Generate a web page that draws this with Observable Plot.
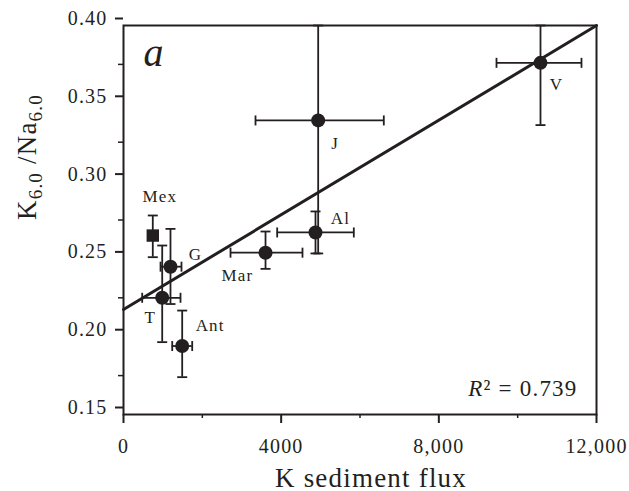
<!DOCTYPE html>
<html><head><meta charset="utf-8">
<script src="https://cdn.jsdelivr.net/npm/d3@7"></script>
<script src="https://cdn.jsdelivr.net/npm/@observablehq/plot@0.6"></script>
<style>
html,body{margin:0;padding:0;background:#fff;}
#chart svg{display:block;}
#chart svg text{letter-spacing:1.2px;}
</style></head><body><div id="chart"></div>
<script>
// ---- data ----
const sites      = ["V", "J", "Al", "Mar", "Mex", "G", "T", "Ant"];
const kFlux      = [10579, 4939, 4871, 3603, 743, 1192, 982, 1489];
const kFluxLo    = [9463, 3349, 3899, 2715, null, 939, 474, 1236];
const kFluxHi    = [11619, 6604, 5843, 4541, null, 1471, 1446, 1743];
const ratio      = [0.376, 0.339, 0.267, 0.254, 0.265, 0.245, 0.225, 0.194];
const ratioLo    = [0.336, 0.2535, 0.2535, 0.2436, 0.2511, 0.221, 0.1965, 0.174];
const ratioHi    = [0.40, 0.40, 0.2805, 0.2676, 0.2779, 0.2693, 0.2586, 0.2168];
const markerShape = ["circle", "circle", "circle", "circle", "square", "circle", "circle", "circle"];
const fitX = [0, 12000];
const fitY = [0.2175, 0.40];
const xTicks = [0, 4000, 8000, 12000];
const xTickLabels = ["0", "4000", "8,000", "12,000"];
const xMinorTicks = [2000, 6000, 10000];
const yTicks = [0.15, 0.20, 0.25, 0.30, 0.35, 0.40];
const yTickLabels = ["0.15", "0.20", "0.25", "0.30", "0.35", "0.40"];
const yMinorTicks = [0.175, 0.225, 0.275, 0.325, 0.375];
const xLabel = "K sediment flux";
const yLabel = "K6.0 /Na6.0";
const panelLabel = "a";
const r2Label = "R\u00b2 = 0.739";

// ---- layout (label offsets in px) ----
const labelOffset = {V:[16,22], J:[17,23], Al:[25,-14], Mar:[-28,23], Mex:[7,-39], G:[25,-12], T:[-12,20], Ant:[28,-20]};
const ink = "#231f20";

const data = sites.map((s, i) => ({site: s, x: kFlux[i], xLo: kFluxLo[i], xHi: kFluxHi[i],
  y: ratio[i], yLo: ratioLo[i], yHi: ratioHi[i], shape: markerShape[i]}));
const xErr = data.filter(d => d.xLo != null);
const fit = fitX.map((x, i) => ({x, y: fitY[i]}));

const capH = {draw(ctx) { ctx.moveTo(-5, 0); ctx.lineTo(5, 0); }};
const capV = {draw(ctx) { ctx.moveTo(0, -5); ctx.lineTo(0, 5); }};
const ew = 1.8;

const chart = Plot.plot({
  width: 629, height: 491,
  marginLeft: 123, marginRight: 33, marginTop: 25, marginBottom: 77,
  style: {fontFamily: "'Liberation Serif', 'Times New Roman', serif", background: "#fff", color: ink, overflow: "visible"},
  x: {domain: [0, 12000]},
  y: {domain: [0.15, 0.40]},
  marks: [
    Plot.frame({stroke: ink, strokeWidth: 2}),
    Plot.axisX({ticks: xTicks, tickFormat: d => xTickLabels[xTicks.indexOf(d)], tickSize: 9, tickPadding: 15, fontSize: 20, label: null, stroke: ink, strokeWidth: 2}),
    Plot.axisX({ticks: xMinorTicks, tickFormat: () => "", tickSize: 4, label: null, stroke: ink, strokeWidth: 1.5}),
    Plot.axisY({ticks: yTicks, tickFormat: d => yTickLabels[yTicks.indexOf(d)], tickSize: 8, tickPadding: 8, dy: -7, fontSize: 20, label: null, stroke: ink, strokeWidth: 2}),
    Plot.axisY({ticks: yMinorTicks, tickFormat: () => "", tickSize: 5, label: null, stroke: ink, strokeWidth: 1.5}),
    Plot.ruleX(data, {x: "x", y1: "yLo", y2: "yHi", stroke: ink, strokeWidth: ew}),
    Plot.ruleY(xErr, {y: "y", x1: "xLo", x2: "xHi", stroke: ink, strokeWidth: ew}),
    Plot.dot(data, {x: "x", y: "yLo", symbol: capH, fill: "none", stroke: ink, strokeWidth: ew}),
    Plot.dot(data, {x: "x", y: "yHi", symbol: capH, fill: "none", stroke: ink, strokeWidth: ew}),
    Plot.dot(xErr, {x: "xLo", y: "y", symbol: capV, fill: "none", stroke: ink, strokeWidth: ew}),
    Plot.dot(xErr, {x: "xHi", y: "y", symbol: capV, fill: "none", stroke: ink, strokeWidth: ew}),
    Plot.line(fit, {x: "x", y: "y", stroke: ink, strokeWidth: 3}),
    Plot.dot(data, {filter: d => d.shape === "circle", x: "x", y: "y", symbol: "circle", r: 7, fill: ink}),
    Plot.dot(data, {filter: d => d.shape === "square", x: "x", y: "y", symbol: "square", r: 7, fill: ink}),
    ...data.map(d => Plot.text([d], {x: "x", y: "y", text: "site", dx: labelOffset[d.site][0], dy: labelOffset[d.site][1], fontSize: 17, fill: ink})),
    Plot.text([panelLabel], {text: d => d, frameAnchor: "top-left", dx: 20, dy: 40, textAnchor: "start", lineAnchor: "bottom", fontSize: 40, fontStyle: "italic", fill: ink}),
    Plot.text([r2Label], {text: d => d, frameAnchor: "bottom-right", dx: -19, dy: -19, textAnchor: "end", lineAnchor: "bottom", fontSize: 23, fill: ink}),
    Plot.text([xLabel], {text: d => d, frameAnchor: "bottom", dx: 11, dy: 72, lineAnchor: "bottom", fontSize: 27, fill: ink}),
    Plot.text([yLabel], {text: d => d, frameAnchor: "left", dx: -96, rotate: -90, lineAnchor: "middle", fontSize: 27, fill: ink})
  ]
});
document.getElementById("chart").appendChild(chart);

// rich text: subscripts and italic R
const svg = d3.select(chart);
svg.selectAll("text").filter(function() { return this.textContent === yLabel; }).each(function() {
  const t = d3.select(this); t.text(null);
  t.append("tspan").text("K");
  t.append("tspan").attr("font-size", 19).attr("dy", 6).text("6.0");
  t.append("tspan").attr("dy", -6).text(" /Na");
  t.append("tspan").attr("font-size", 19).attr("dy", 6).text("6.0");
});
svg.selectAll("text").filter(function() { return this.textContent === r2Label; }).each(function() {
  const t = d3.select(this); t.text(null);
  t.append("tspan").attr("font-style", "italic").text("R");
  t.append("tspan").text("\u00b2 = 0.739");
});
</script>
</body></html>
